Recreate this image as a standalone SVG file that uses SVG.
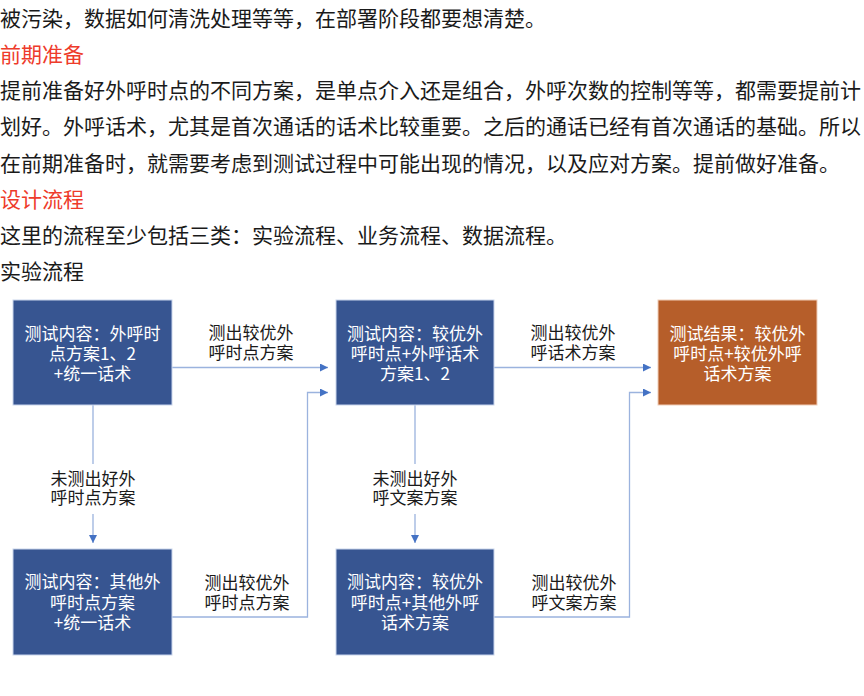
<svg xmlns="http://www.w3.org/2000/svg" width="864" height="696" viewBox="0 0 864 696">
<defs>
<style>
.body{font-family:"Noto Sans CJK SC","Liberation Sans",sans-serif;font-size:21px;fill:#1a1a1a}
.head{font-family:"Noto Sans CJK SC","Liberation Sans",sans-serif;font-size:21px;fill:#EE3B2B}
.box{fill:#375591;stroke:#C9D5EC;stroke-width:1}
.res{fill:#B65E2A;stroke:#F0CDB8;stroke-width:1}
.bt{font-family:"Noto Sans CJK SC","Liberation Sans",sans-serif;font-size:17px;fill:#ffffff;text-anchor:middle}
.lt{font-family:"Noto Sans CJK SC","Liberation Sans",sans-serif;font-size:17px;fill:#1a1a1a;text-anchor:middle}
.con{fill:none;stroke:#9BB3DE;stroke-width:1.3}
</style>
<marker id="ah" viewBox="0 0 8 8" refX="8" refY="4" markerWidth="8" markerHeight="8" markerUnits="userSpaceOnUse" orient="auto">
<path d="M0 0 L8 4 L0 8 Z" fill="#4472C4"/>
</marker>
</defs>
<rect width="864" height="696" fill="#ffffff"/>
<g id="text">
<text class="body" x="0" y="26">被污染，数据如何清洗处理等等，在部署阶段都要想清楚。</text>
<text class="head" x="0" y="62">前期准备</text>
<text class="body" x="0" y="98">提前准备好外呼时点的不同方案，是单点介入还是组合，外呼次数的控制等等，都需要提前计</text>
<text class="body" x="0" y="134">划好。外呼话术，尤其是首次通话的话术比较重要。之后的通话已经有首次通话的基础。所以</text>
<text class="body" x="0" y="171">在前期准备时，就需要考虑到测试过程中可能出现的情况，以及应对方案。提前做好准备。</text>
<text class="head" x="0" y="207">设计流程</text>
<text class="body" x="0" y="243">这里的流程至少包括三类：实验流程、业务流程、数据流程。</text>
<text class="body" x="0" y="279">实验流程</text>
</g>
<g id="connectors">
<path class="con" d="M172 367.5 H328" marker-end="url(#ah)"/>
<path class="con" d="M494 367.5 H651" marker-end="url(#ah)"/>
<path class="con" d="M93 405 V464 M93 514 V543" marker-end="url(#ah)"/>
<path class="con" d="M415 405 V464 M415 514 V543" marker-end="url(#ah)"/>
<path class="con" d="M172 617 H307.5 V392.5 H328" marker-end="url(#ah)"/>
<path class="con" d="M494 617 H629.5 V392.5 H651" marker-end="url(#ah)"/>
<text class="lt" x="251" y="338.5">测出较优外</text>
<text class="lt" x="251" y="358.5">呼时点方案</text>
<text class="lt" x="573" y="338.5">测出较优外</text>
<text class="lt" x="573" y="358.5">呼话术方案</text>
<text class="lt" x="93" y="484.5">未测出好外</text>
<text class="lt" x="93" y="504">呼时点方案</text>
<text class="lt" x="415" y="484.5">未测出好外</text>
<text class="lt" x="415" y="504">呼文案方案</text>
<text class="lt" x="247" y="588.5">测出较优外</text>
<text class="lt" x="247" y="608.5">呼时点方案</text>
<text class="lt" x="574" y="588.5">测出较优外</text>
<text class="lt" x="574" y="608.5">呼文案方案</text>
</g>
<g id="node1">
<rect class="box" x="13" y="300" width="159" height="105"/>
<text class="bt" x="92.5" y="339.5">测试内容：外呼时</text>
<text class="bt" x="92.5" y="359.5">点方案1、2</text>
<text class="bt" x="92.5" y="379.5">+统一话术</text>
</g>
<g id="node2">
<rect class="box" x="336" y="300" width="158" height="105"/>
<text class="bt" x="415" y="339.5">测试内容：较优外</text>
<text class="bt" x="415" y="359.5">呼时点+外呼话术</text>
<text class="bt" x="415" y="379.5">方案1、2</text>
</g>
<g id="node3">
<rect class="res" x="658" y="300" width="159" height="105"/>
<text class="bt" x="737.5" y="339.5">测试结果：较优外</text>
<text class="bt" x="737.5" y="359.5">呼时点+较优外呼</text>
<text class="bt" x="737.5" y="379.5">话术方案</text>
</g>
<g id="node4">
<rect class="box" x="13" y="549" width="159" height="106"/>
<text class="bt" x="92.5" y="588">测试内容：其他外</text>
<text class="bt" x="92.5" y="608.5">呼时点方案</text>
<text class="bt" x="92.5" y="629">+统一话术</text>
</g>
<g id="node5">
<rect class="box" x="336" y="549" width="158" height="106"/>
<text class="bt" x="415" y="588">测试内容：较优外</text>
<text class="bt" x="415" y="608.5">呼时点+其他外呼</text>
<text class="bt" x="415" y="629">话术方案</text>
</g>
</svg>
